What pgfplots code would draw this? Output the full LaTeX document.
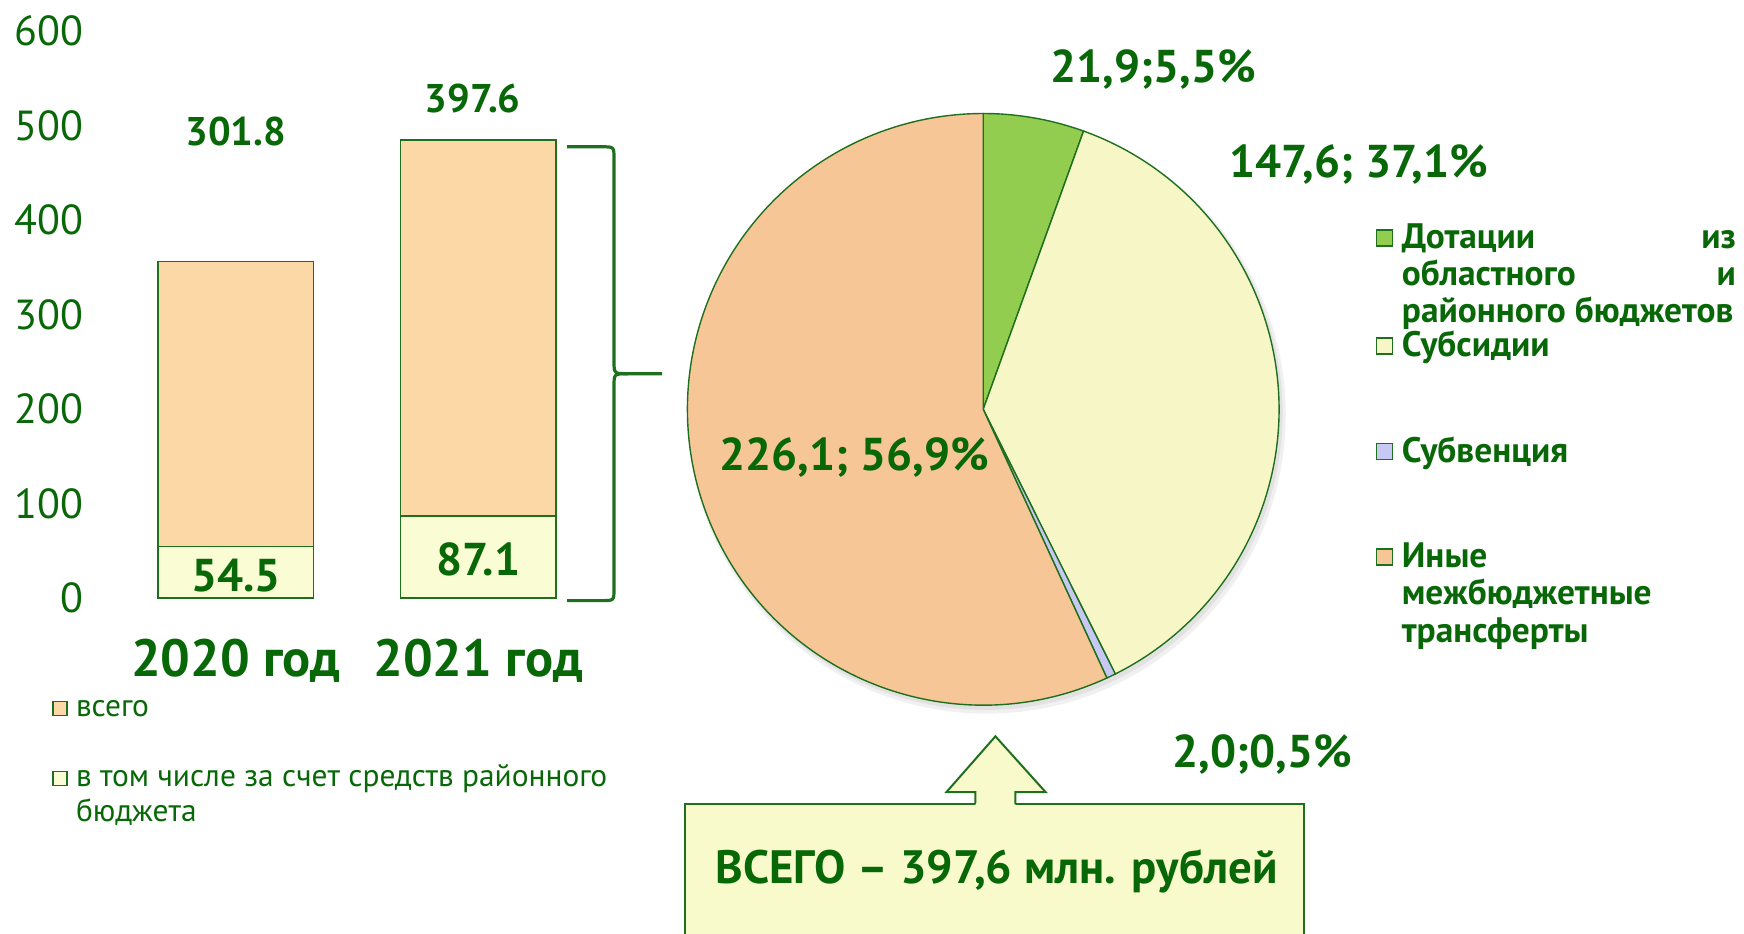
\documentclass[border=0pt]{standalone}
\usepackage{fontspec}
\setmainfont{PT Sans}
\usepackage{pgfplots}
\usepackage{pgfplotstable}
\pgfplotsset{compat=1.18}

\definecolor{txtgreen}{RGB}{8,104,8}
\definecolor{edgegreen}{RGB}{30,112,30}
\definecolor{barpeach}{RGB}{252,216,166}
\definecolor{barlow}{RGB}{250,252,212}
\definecolor{piegreen}{RGB}{146,205,80}
\definecolor{pieyellow}{RGB}{247,246,198}
\definecolor{pieblue}{RGB}{200,200,244}
\definecolor{piepeach}{RGB}{246,198,150}
\definecolor{boxfill}{RGB}{249,250,204}

% bars: total (всего) on top of the district-budget part
\pgfplotstableread{
year total local
0 301.8 54.5
1 397.6 87.1
}\bartable

% pie: Дотации, Субсидии, Субвенция, Иные
\pgfplotstableread{
part value
1 21.9
2 147.6
3 2.0
4 226.1
}\pietable

\newcommand\fsz[1]{\fontsize{#1}{#1}\selectfont}

\begin{document}
\begin{tikzpicture}
\pgfplotstablegetelem{0}{value}\of\pietable \let\vA\pgfplotsretval
\pgfplotstablegetelem{1}{value}\of\pietable \let\vB\pgfplotsretval
\pgfplotstablegetelem{2}{value}\of\pietable \let\vC\pgfplotsretval
\pgfplotstablegetelem{3}{value}\of\pietable \let\vD\pgfplotsretval
\pgfmathsetmacro\tot{\vA+\vB+\vC+\vD}
\pgfmathsetmacro\aA{90}
\pgfmathsetmacro\aB{\aA-360*(\vA/\tot)}
\pgfmathsetmacro\aC{\aB-360*(\vB/\tot)}
\pgfmathsetmacro\aD{\aC-360*(\vC/\tot)}
\pgfmathsetmacro\aE{\aD-360*(\vD/\tot)}
\def\rad{147.9pt}

\path[use as bounding box] (0,0) rectangle (872pt,-466.5pt);

% ---- bar chart ----
\begin{axis}[
  at={(45.2pt,-299pt)}, anchor=south west,
  scale only axis, width=254.5pt, height=283.5pt,
  xmin=-0.6, xmax=1.5, ymin=0, ymax=600,
  ybar stacked, bar width=77.85pt,
  axis line style={draw=none}, major tick length=0pt,
  ytick={0,100,...,600},
  xtick={0,1}, xticklabels={2020 год,2021 год},
  yticklabel style={font=\fsz{21}, text=txtgreen},
  xticklabel style={font=\bfseries\fsz{26.2}, text=txtgreen, yshift=-17pt},
  /pgf/number format/assume math mode=true,
  clip=false,
]
\addplot[fill=barlow, draw=edgegreen, line width=0.8pt] table[x=year,y=local]{\bartable};
\addplot[fill=barpeach, draw=edgegreen, line width=0.8pt] table[x=year,y=total]{\bartable};
\coordinate (tA) at (axis cs:0,494);
\coordinate (tB) at (axis cs:0.977,529);
\coordinate (lA) at (axis cs:0,23.3);
\coordinate (lB) at (axis cs:1,40.8);
\end{axis}
\node[text=txtgreen, font=\bfseries\fsz{20}] at (tA) {301.8};
\node[text=txtgreen, font=\bfseries\fsz{20}] at (tB) {397.6};
\node[text=txtgreen, font=\bfseries\fsz{23}] at (lA) {54.5};
\node[text=txtgreen, font=\bfseries\fsz{23}] at (lB) {87.1};

% ---- pie chart ----
\begin{axis}[
  at={(491.6pt,-204.65pt)}, anchor=center,
  scale only axis, width=295.8pt, height=295.8pt,
  xmin=-1, xmax=1, ymin=-1, ymax=1, hide axis, clip=false,
]
\fill[black, opacity=0.06] (axis cs:0.012,-0.018) circle[radius=149.5pt];
\fill[black, opacity=0.06] (axis cs:0.008,-0.012) circle[radius=148.5pt];
\filldraw[fill=piegreen, draw=edgegreen, line width=0.7pt] (axis cs:0,0) -- ++(\aA:\rad) arc[start angle=\aA, end angle=\aB, radius=\rad] -- cycle;
\filldraw[fill=pieyellow, draw=edgegreen, line width=0.7pt] (axis cs:0,0) -- ++(\aB:\rad) arc[start angle=\aB, end angle=\aC, radius=\rad] -- cycle;
\filldraw[fill=pieblue, draw=edgegreen, line width=0.7pt] (axis cs:0,0) -- ++(\aC:\rad) arc[start angle=\aC, end angle=\aD, radius=\rad] -- cycle;
\filldraw[fill=piepeach, draw=edgegreen, line width=0.7pt] (axis cs:0,0) -- ++(\aD:\rad) arc[start angle=\aD, end angle=\aE, radius=\rad] -- cycle;
\end{axis}

\begin{scope}[x=0.5pt, y=-0.5pt]
% brace
\draw[edgegreen, line width=1.6pt]
  (567,146.8) -- (602,146.8) .. controls (614,146.8) .. (614,158.8) -- (614,361)
  .. controls (614,373.7) .. (628,373.7) -- (662,373.7);
\draw[edgegreen, line width=1.6pt]
  (567,600.6) -- (602,600.6) .. controls (614,600.6) .. (614,588.6) -- (614,386.4)
  .. controls (614,373.7) .. (628,373.7);

% pie labels
\begin{scope}[every node/.style={text=txtgreen, font=\bfseries\fsz{23}}]
\node at (1153.3,69) {21,9;5,5\%};
\node at (1359,164.6) {147,6; 37,1\%};
\node at (854.2,457) {226,1; 56,9\%};
\node at (1262.4,754) {2,0;0,5\%};
\end{scope}

% left legend
\filldraw[fill=barpeach, draw=edgegreen, line width=0.8pt] (53,701.5) rectangle (67,715.5);
\filldraw[fill=barlow, draw=edgegreen, line width=0.8pt] (53,771.5) rectangle (67,785.5);
\begin{scope}[every node/.style={text=txtgreen, font=\fsz{15.7}, anchor=base west, inner sep=0pt}]
\node at (75.6,716) {всего};
\node at (75.6,786) {в том числе за счет средств районного};
\node at (75.6,821) {бюджета};
\end{scope}

% right legend
\filldraw[fill=piegreen, draw=edgegreen, line width=0.8pt] (1376.5,230) rectangle (1392.5,246);
\filldraw[fill=pieyellow, draw=edgegreen, line width=0.8pt] (1376.5,338) rectangle (1392.5,354);
\filldraw[fill=pieblue, draw=edgegreen, line width=0.8pt] (1376.5,443.6) rectangle (1392.5,459.6);
\filldraw[fill=piepeach, draw=edgegreen, line width=0.8pt] (1376.5,549) rectangle (1392.5,565);
\begin{scope}[every node/.style={text=txtgreen, font=\bfseries\fsz{17.7}, anchor=base west, inner sep=0pt}]
\node at (1401.5,248) {\makebox[167pt][l]{Дотации\hfill из}};
\node at (1401.5,285.3) {\makebox[167pt][l]{областного\hfill и}};
\node at (1401.5,322.6) {районного бюджетов};
\node at (1401.5,356) {Субсидии};
\node at (1401.5,462) {Субвенция};
\node at (1401.5,567) {Иные};
\node at (1401.5,604.5) {межбюджетные};
\node at (1401.5,642) {трансферты};
\end{scope}

% total box with arrow
\filldraw[fill=boxfill, draw=edgegreen, line width=1pt] (685,804) rectangle (1303.5,940);
\fill[boxfill] (975.4,806) -- (975.4,792) -- (946.5,792) -- (995.4,736.3) -- (1045.5,792) -- (1015.4,792) -- (1015.4,806) -- cycle;
\draw[edgegreen, line width=1pt] (975.4,804) -- (975.4,792) -- (946.5,792) -- (995.4,736.3) -- (1045.5,792) -- (1015.4,792) -- (1015.4,804);
\fill[boxfill] (976.4,803) rectangle (1014.4,806);
\node[text=txtgreen, font=\bfseries\fsz{23.4}] at (996.5,871) {ВСЕГО – 397,6 млн. рублей};
\end{scope}
\end{tikzpicture}
\end{document}
